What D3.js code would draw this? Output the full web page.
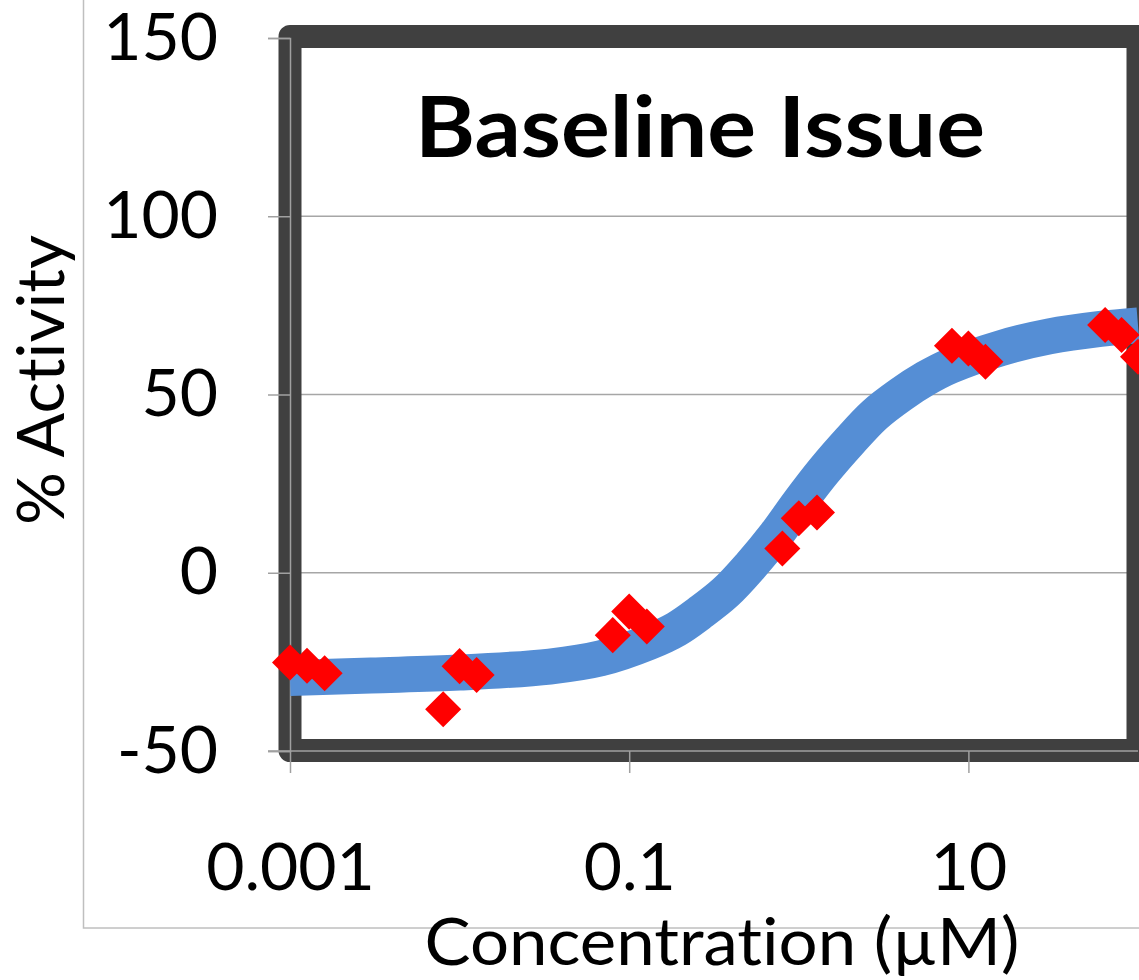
<!DOCTYPE html>
<html>
<head>
<meta charset="utf-8">
<script src="https://cdn.jsdelivr.net/npm/d3@7"></script>
<style>
body { margin: 0; background: #fff; }
text { font-family: Lato, "Open Sans", sans-serif; fill: #000; font-variant-ligatures: none; }
</style>
</head>
<body>
<div id="chart"></div>
<script>
// measured replicates (concentration in uM, % activity)
var pointConc = [0.001, 0.00126, 0.0016, 0.008, 0.01, 0.0126, 0.08, 0.1, 0.127, 0.8, 1.0, 1.28, 8, 10, 12.6, 64, 80, 100];
var pointActivity = [-25.2, -26.1, -28.2, -38.3, -26.2, -28.7, -17.5, -10.9, -15.1, 6.8, 15.3, 16.9, 63.7, 62.9, 59.2, 69.5, 66.7, 60.6];

// fitted curve
var fitConc = [0.001, 0.003, 0.01, 0.034, 0.068, 0.13, 0.19, 0.26, 0.37, 0.52, 0.73, 1.0, 1.4, 2.0, 2.8, 4.0, 5.6, 7.8, 15.5, 30, 60, 100];
var fitActivity = [-29.5, -28.8, -28, -26.3, -24, -19.5, -15.8, -11.3, -5.5, 2, 10.5, 19.5, 28.5, 37, 44.3, 50, 54.5, 58, 63, 66.3, 68.4, 69.4];

var yTicks = [150, 100, 50, 0, -50];
var gridValues = [100, 50, 0];
var xTicks = [0.001, 0.1, 10];

var width = 1139, height = 980;

var svg = d3.select("#chart").append("svg")
    .attr("width", width)
    .attr("height", height);

var x = d3.scaleLog().domain([0.001, 100]).range([290, 1138]);
var y = d3.scaleLinear().domain([-50, 150]).range([751, 38]);

// chart area border (only left and bottom are in view)
svg.append("rect")
    .attr("x", 83.5).attr("y", -20)
    .attr("width", 1200).attr("height", 948)
    .attr("fill", "none")
    .attr("stroke", "#bfbfbf")
    .attr("stroke-width", 1.5);

// gridlines
svg.append("g")
    .selectAll("line")
    .data(gridValues)
    .enter().append("line")
    .attr("x1", x(0.001)).attr("x2", x(100))
    .attr("y1", function(d) { return y(d); })
    .attr("y2", function(d) { return y(d); })
    .attr("stroke", "#a6a6a6")
    .attr("stroke-width", 1.5);

// thick plot frame
svg.append("rect")
    .attr("x", x(0.001)).attr("y", y(150) - 1.5)
    .attr("width", x(100) - x(0.001))
    .attr("height", y(-50) - y(150) + 1)
    .attr("fill", "none")
    .attr("stroke", "#404040")
    .attr("stroke-width", 23)
    .attr("stroke-linejoin", "round");

// axes
var yAxis = d3.axisLeft(y).tickValues(yTicks).tickSize(22).tickPadding(50)
    .tickFormat(function(d) { return String(d); });
var xAxis = d3.axisBottom(x).tickValues(xTicks).tickSize(22).tickPadding(70)
    .tickFormat(function(d) { return String(d); });

var gy = svg.append("g")
    .attr("transform", "translate(" + x(0.001) + ",0)")
    .call(yAxis);
var gx = svg.append("g")
    .attr("transform", "translate(0," + y(-50) + ")")
    .call(xAxis);

[gx, gy].forEach(function(g) {
    g.selectAll("path, line").attr("stroke", "#a0a0a0").attr("stroke-width", 1.5);
    g.selectAll("text")
        .attr("font-family", "Lato, 'Open Sans', sans-serif")
        .attr("font-size", 66)
        .attr("fill", "#000");
});
gx.select(".domain").attr("d", "M" + (x(0.001) - 22) + ",0H" + x(100));

// fitted curve
var line = d3.line()
    .x(function(d, i) { return x(fitConc[i]); })
    .y(function(d) { return y(d); })
    .curve(d3.curveCatmullRom.alpha(0.5));

svg.append("path")
    .attr("d", line(fitActivity))
    .attr("fill", "none")
    .attr("stroke", "#558ed5")
    .attr("stroke-width", 36);

// data points as diamonds
var diamond = d3.symbol().type(d3.symbolSquare).size(650);
svg.append("g")
    .selectAll("path")
    .data(pointActivity)
    .enter().append("path")
    .attr("d", diamond)
    .attr("transform", function(d, i) {
        return "translate(" + x(pointConc[i]) + "," + y(d) + ") rotate(45)";
    })
    .attr("fill", "#ff0000");

// title
svg.append("text")
    .attr("x", 700).attr("y", 157)
    .attr("text-anchor", "middle")
    .attr("font-size", 84)
    .attr("font-weight", "bold")
    .attr("textLength", 570)
    .attr("lengthAdjust", "spacingAndGlyphs")
    .text("Baseline Issue");

// axis titles
svg.append("text")
    .attr("x", 722).attr("y", 965)
    .attr("text-anchor", "middle")
    .attr("font-size", 66)
    .attr("textLength", 595)
    .attr("lengthAdjust", "spacingAndGlyphs")
    .text("Concentration (µM)");

svg.append("text")
    .attr("transform", "translate(64,380) rotate(-90)")
    .attr("text-anchor", "middle")
    .attr("font-size", 66)
    .attr("textLength", 290)
    .attr("lengthAdjust", "spacingAndGlyphs")
    .text("% Activity");
</script>
</body>
</html>
